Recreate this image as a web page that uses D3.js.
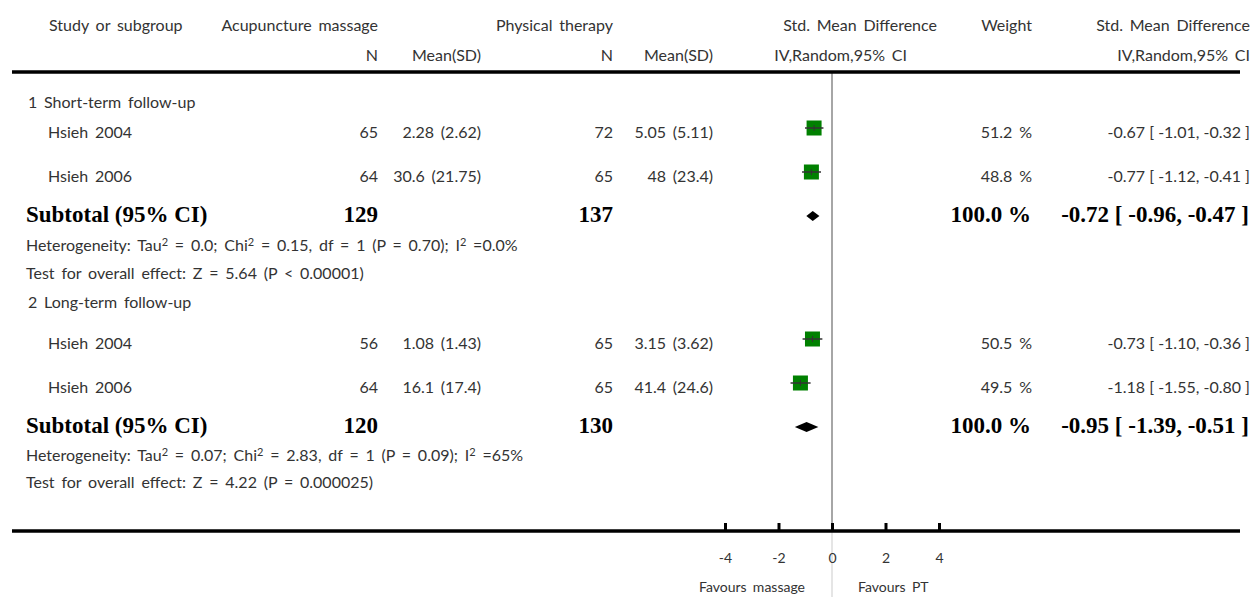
<!DOCTYPE html>
<html>
<head>
<meta charset="utf-8">
<script src="https://cdn.jsdelivr.net/npm/d3@7"></script>
<style>
  body { margin: 0; background: #fff; }
  text { font-family: Lato, "Open Sans", sans-serif; fill: #333; word-spacing: 2.7px; }
  .bold { font-family: "Liberation Serif", "DejaVu Serif", serif; font-weight: bold; fill: #000; word-spacing: 0; }
  .ci { word-spacing: 0; }
</style>
</head>
<body>
<script>
// ---- data ----
var groupTitles = ["1 Short-term follow-up", "2 Long-term follow-up"];
var studyNames = ["Hsieh 2004", "Hsieh 2006", "Hsieh 2004", "Hsieh 2006"];
var expN = [65, 64, 56, 64];
var expMeanSD = ["2.28 (2.62)", "30.6 (21.75)", "1.08 (1.43)", "16.1 (17.4)"];
var ctlN = [72, 65, 65, 65];
var ctlMeanSD = ["5.05 (5.11)", "48 (23.4)", "3.15 (3.62)", "41.4 (24.6)"];
var smd = [-0.67, -0.77, -0.73, -1.18];
var ciLow = [-1.01, -1.12, -1.10, -1.55];
var ciHigh = [-0.32, -0.41, -0.36, -0.80];
var weights = ["51.2", "48.8", "50.5", "49.5"];

var subExpN = [129, 120];
var subCtlN = [137, 130];
var subSmd = [-0.72, -0.95];
var subLow = [-0.96, -1.39];
var subHigh = [-0.47, -0.51];
var tau2 = ["0.0", "0.07"];
var chi2 = ["0.15", "2.83"];
var dfs = [1, 1];
var pHet = ["0.70", "0.09"];
var i2 = ["0.0%", "65%"];
var zVal = ["5.64", "4.22"];
var pZ = ["P < 0.00001", "P = 0.000025"];

var xTicks = [-4, -2, 0, 2, 4];

// plain hyphen for negatives, like the original
function fmt(v) { return v.toFixed(2); }
function ciText(m, lo, hi) {
  return fmt(m) + " [ " + fmt(lo) + ", " + fmt(hi) + " ]";
}

// ---- layout ----
var W = 1253, H = 597;
var axisY = 531;
var rows = [
  {kind: "group", g: 0, y: 108},
  {kind: "study", i: 0, y: 138},
  {kind: "study", i: 1, y: 182},
  {kind: "subtotal", g: 0, y: 222},
  {kind: "het", g: 0, y: 251},
  {kind: "test", g: 0, y: 279},
  {kind: "group", g: 1, y: 308},
  {kind: "study", i: 2, y: 349},
  {kind: "study", i: 3, y: 393},
  {kind: "subtotal", g: 1, y: 433},
  {kind: "het", g: 1, y: 461},
  {kind: "test", g: 1, y: 488}
];

var x = d3.scaleLinear().domain([-4, 4]).range([725, 939]);

var svg = d3.select("body").append("svg")
    .attr("width", W)
    .attr("height", H);

function txt(xp, yp, s, anchor, size, cls) {
  return svg.append("text")
      .attr("x", xp).attr("y", yp)
      .attr("text-anchor", anchor || "start")
      .attr("class", cls || null)
      .style("font-size", (size || 16) + "px")
      .text(s);
}

// text with superscript 2s: parts alternate normal / sup
function supText(xp, yp, parts) {
  var t = svg.append("text").attr("x", xp).attr("y", yp).style("font-size", "16px");
  parts.forEach(function(p, k) {
    if (k % 2 === 0) {
      t.append("tspan").attr("dy", k === 0 ? 0 : 5).text(p);
    } else {
      t.append("tspan").attr("dy", -5).style("font-size", "11px").text(p);
    }
  });
  return t;
}

// header
txt(49, 31, "Study or subgroup");
txt(378, 31, "Acupuncture massage", "end");
txt(613, 31, "Physical therapy", "end");
txt(937, 31, "Std. Mean Difference", "end");
txt(1032, 31, "Weight", "end");
txt(1250, 31, "Std. Mean Difference", "end");
txt(378, 61, "N", "end");
txt(481, 61, "Mean(SD)", "end");
txt(613, 61, "N", "end");
txt(713, 61, "Mean(SD)", "end");
txt(907, 61, "IV,Random,95% CI", "end");
txt(1250, 61, "IV,Random,95% CI", "end");

// zero line
svg.append("line")
    .attr("x1", x(0)).attr("x2", x(0))
    .attr("y1", 73).attr("y2", axisY)
    .attr("stroke", "#888").attr("stroke-width", 1.5);
svg.append("line")
    .attr("x1", x(0)).attr("x2", x(0))
    .attr("y1", axisY).attr("y2", H)
    .attr("stroke", "#ddd").attr("stroke-width", 1.5);

// header rule
svg.append("line")
    .attr("x1", 12).attr("x2", 1240)
    .attr("y1", 72).attr("y2", 72)
    .attr("stroke", "#000").attr("stroke-width", 3.5);

rows.forEach(function(r) {
  if (r.kind === "group") {
    txt(28, r.y, groupTitles[r.g]);
  } else if (r.kind === "study") {
    var i = r.i;
    txt(48, r.y, studyNames[i]);
    txt(378, r.y, expN[i], "end");
    txt(481, r.y, expMeanSD[i], "end");
    txt(613, r.y, ctlN[i], "end");
    txt(713, r.y, ctlMeanSD[i], "end");
    txt(1032, r.y, weights[i] + " %", "end");
    txt(1250, r.y, ciText(smd[i], ciLow[i], ciHigh[i]), "end", 16, "ci");
    var cy = r.y - 10, s = 15;
    svg.append("rect")
        .attr("x", x(smd[i]) - s / 2).attr("y", cy - s / 2)
        .attr("width", s).attr("height", s)
        .attr("fill", "#008000");
    svg.append("line")
        .attr("x1", x(ciLow[i])).attr("x2", x(ciHigh[i]))
        .attr("y1", cy).attr("y2", cy)
        .attr("stroke", "#333").attr("stroke-width", 1.5);
    svg.append("line")
        .attr("x1", x(smd[i])).attr("x2", x(smd[i]))
        .attr("y1", cy - 3).attr("y2", cy + 3)
        .attr("stroke", "#333").attr("stroke-width", 1);
  } else if (r.kind === "subtotal") {
    var g = r.g;
    txt(26, r.y, "Subtotal (95% CI)", "start", 23, "bold");
    txt(378, r.y, subExpN[g], "end", 23, "bold");
    txt(613, r.y, subCtlN[g], "end", 23, "bold");
    txt(1031, r.y, "100.0 %", "end", 23, "bold");
    txt(1249, r.y, ciText(subSmd[g], subLow[g], subHigh[g]), "end", 23, "bold");
    var dy = r.y - 6;
    svg.append("path")
        .attr("d", "M" + x(subLow[g]) + "," + dy +
                   "L" + x(subSmd[g]) + "," + (dy - 5) +
                   "L" + x(subHigh[g]) + "," + dy +
                   "L" + x(subSmd[g]) + "," + (dy + 5) + "Z")
        .attr("fill", "#000");
  } else if (r.kind === "het") {
    var g2 = r.g;
    supText(26, r.y, [
      "Heterogeneity: Tau", "2", " = " + tau2[g2] + "; Chi", "2",
      " = " + chi2[g2] + ", df = " + dfs[g2] + " (P = " + pHet[g2] + "); I", "2",
      " =" + i2[g2]
    ]);
  } else if (r.kind === "test") {
    txt(26, r.y, "Test for overall effect: Z = " + zVal[r.g] + " (" + pZ[r.g] + ")");
  }
});

// bottom axis
svg.append("line")
    .attr("x1", 12).attr("x2", 1240)
    .attr("y1", axisY).attr("y2", axisY)
    .attr("stroke", "#000").attr("stroke-width", 3.5);

var ax = svg.append("g")
    .attr("transform", "translate(0," + axisY + ")")
    .call(d3.axisBottom(x).tickValues(xTicks).tickSizeInner(-8).tickSizeOuter(0).tickPadding(22)
        .tickFormat(function(d) { return String(d); }));
ax.select(".domain").remove();
ax.selectAll(".tick line").attr("stroke", "#000").attr("stroke-width", 3);
ax.selectAll(".tick text")
    .style("font-family", "Lato, sans-serif")
    .style("font-size", "14px")
    .attr("fill", "#333");

txt(x(0) - 27, 592, "Favours massage", "end", 14);
txt(x(0) + 26, 592, "Favours PT", "start", 14);
</script>
</body>
</html>
